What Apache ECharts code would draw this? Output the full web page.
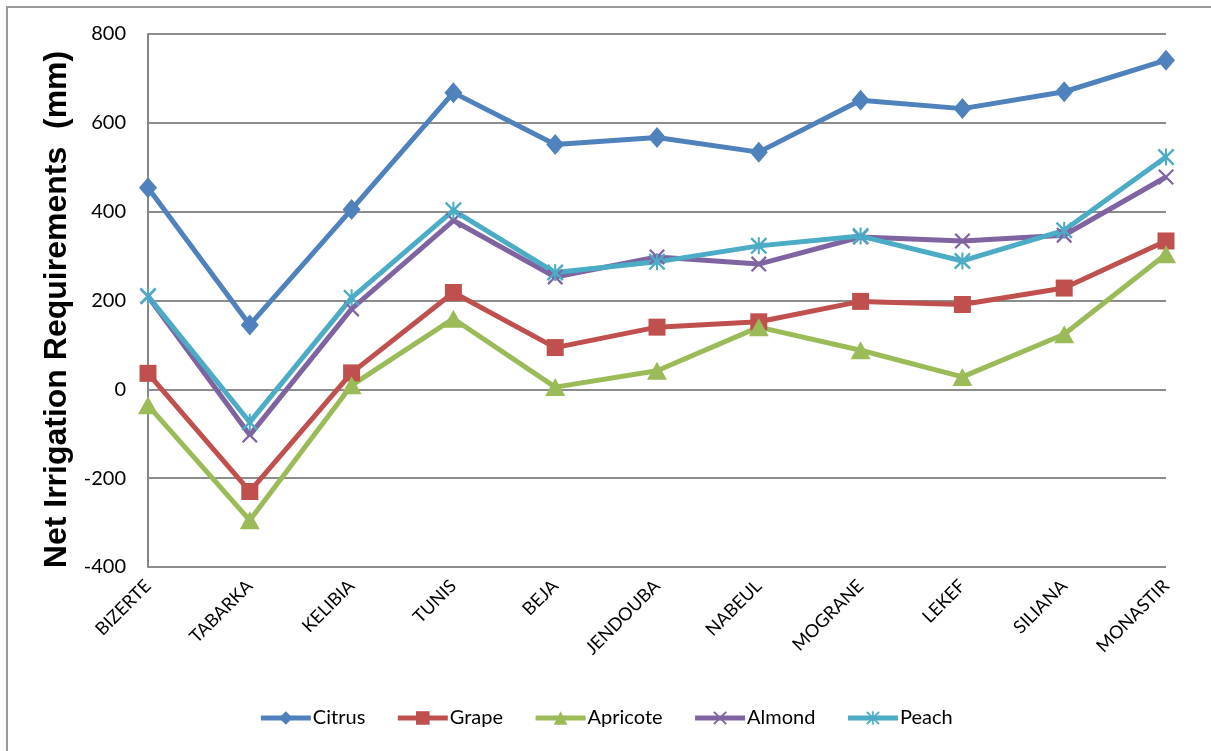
<!DOCTYPE html>
<html>
<head>
<meta charset="utf-8">
<script src="https://cdn.jsdelivr.net/npm/echarts@6/dist/echarts.min.js"></script>
<style>
  html, body { margin: 0; padding: 0; background: #fff; }
  #main { width: 1211px; height: 751px; }
</style>
</head>
<body>
<div id="main"></div>
<script>
var stations = ['BIZERTE', 'TABARKA', 'KELIBIA', 'TUNIS', 'BEJA', 'JENDOUBA', 'NABEUL', 'MOGRANE', 'LEKEF', 'SILIANA', 'MONASTIR'];
var citrus   = [454, 145, 405, 668, 551, 567, 534, 651, 632, 670, 741];
var grape    = [36, -230, 37, 218, 94, 140, 152, 198, 191, 228, 334];
var apricote = [-36, -295, 9, 159, 5, 42, 140, 88, 28, 124, 304];
var almond   = [209, -103, 181, 380, 253, 298, 282, 343, 334, 347, 478];
var peach    = [210, -74, 206, 403, 263, 287, 323, 345, 289, 358, 523];
var yTicks   = [-400, -200, 0, 200, 400, 600, 800];

// croix et asterisque d'Excel, en polygones pleins
var xMark = 'path://M0,1L1,0L10,9L9,10ZM9,0L10,1L1,10L0,9Z';
var starMark = 'path://M0,1L1,0L10,9L9,10ZM9,0L10,1L1,10L0,9ZM4.4,0L5.6,0L5.6,10L4.4,10Z';

var font = 'Lato, "Open Sans", sans-serif';

function serie(name, data, color, symbol, size) {
    return {
        name: name,
        type: 'line',
        data: data,
        symbol: symbol,
        symbolSize: size,
        lineStyle: { width: 5, color: color },
        itemStyle: { color: color },
        z: 3
    };
}

var chart = echarts.init(document.getElementById('main'));
chart.setOption({
    animation: false,
    graphic: [{
        type: 'rect',
        shape: { x: 7, y: 7, width: 1230, height: 770 },
        style: { fill: null, stroke: '#9a9a9a', lineWidth: 2 },
        silent: true
    }],
    grid: { left: 148, right: 45, top: 34, bottom: 184 },
    legend: {
        bottom: 18,
        left: 'center',
        itemWidth: 50,
        itemHeight: 17,
        itemGap: 30,
        lineStyle: { width: 5 },
        textStyle: { fontFamily: font, fontSize: 20, color: '#000', padding: [0, 0, 0, -3] },
        data: ['Citrus', 'Grape', 'Apricote', 'Almond', 'Peach']
    },
    xAxis: {
        type: 'category',
        data: stations,
        boundaryGap: false,
        axisLine: { show: false },
        axisTick: { show: false },
        axisLabel: {
            rotate: 45,
            margin: 16,
            interval: 0,
            fontFamily: font,
            fontSize: 18,
            color: '#000'
        },
        splitLine: { show: false }
    },
    yAxis: {
        type: 'value',
        min: yTicks[0],
        max: yTicks[yTicks.length - 1],
        interval: 200,
        name: 'Net Irrigation Requirements  (mm)',
        nameLocation: 'middle',
        nameGap: 70,
        nameTextStyle: {
            fontFamily: 'Liberation Sans, Arial, sans-serif',
            fontWeight: 'bold',
            fontSize: 32,
            color: '#000',
            padding: [0, 18, 0, 0]
        },
        axisLine: { show: true, lineStyle: { color: '#868686', width: 2 } },
        axisTick: { show: false },
        axisLabel: { fontFamily: font, fontSize: 20, color: '#000', margin: 22 },
        splitLine: { show: true, lineStyle: { color: '#8c8c8c', width: 2 } }
    },
    series: [
        serie('Citrus', citrus, '#4F81BD', 'diamond', [18, 21]),
        serie('Grape', grape, '#C0504D', 'rect', 17),
        serie('Apricote', apricote, '#9BBB59', 'triangle', [20, 18]),
        serie('Almond', almond, '#8064A2', xMark, 16),
        serie('Peach', peach, '#4BACC6', starMark, 17)
    ]
});
</script>
</body>
</html>
